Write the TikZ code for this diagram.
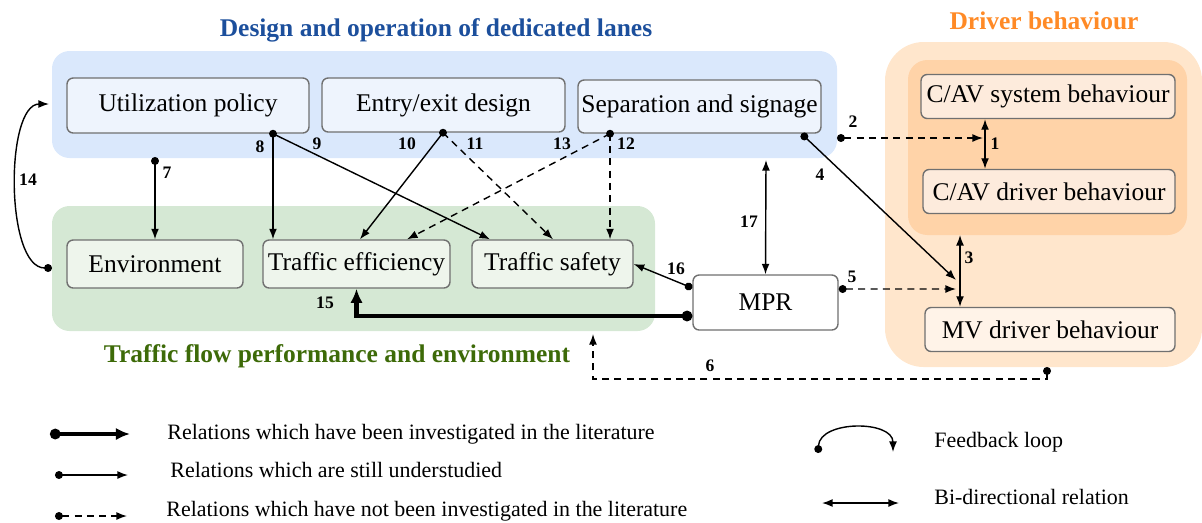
\documentclass[tikz,border=0pt]{standalone}
\usepackage{fontspec}
\setmainfont{Liberation Serif}
\usetikzlibrary{arrows.meta}

\definecolor{lanebg}{HTML}{DAE8FC}
\definecolor{lanebox}{HTML}{EEF4FD}
\definecolor{lanetxt}{HTML}{1C4F9C}
\definecolor{flowbg}{HTML}{D5E8D4}
\definecolor{flowbox}{HTML}{EEF5EC}
\definecolor{flowtxt}{HTML}{3D6A08}
\definecolor{drvbg}{HTML}{FFE6CC}
\definecolor{drvin}{HTML}{FFD3A8}
\definecolor{drvbox}{HTML}{FDEBDC}
\definecolor{mvbox}{HTML}{FFF3E8}
\definecolor{drvtxt}{HTML}{FF8A26}
\definecolor{boxline}{HTML}{707070}

\begin{document}
\begin{tikzpicture}[x=0.02cm, y=-0.02cm,
blk/.style = {draw=boxline, line width=0.8pt, rounded corners=3.5pt, inner sep=1pt, font=\fontsize{14.5}{17}\selectfont},
ttl/.style = {inner sep=0pt, font=\bfseries\fontsize{14.5}{17}\selectfont},
num/.style = {inner sep=0pt, font=\bfseries\fontsize{10}{12}\selectfont},
lgd/.style = {anchor=west, inner sep=0pt, font=\fontsize{12.5}{15}\selectfont},
rel/.style = {line width=0.8pt, {Circle[length=4.5pt]}-{Latex[length=6pt,width=4.5pt]}},
nrel/.style = {rel, dash pattern=on 4pt off 3pt},
rto/.style = {line width=0.8pt, -{Latex[length=6pt,width=4.5pt]}},
nrto/.style = {rto, dash pattern=on 4pt off 3pt},
irel/.style = {line width=2.8pt, {Circle[length=6pt]}-{Latex[length=8pt,width=7pt]}},
bi/.style = {line width=0.8pt, {Latex[length=6pt,width=4.5pt]}-{Latex[length=6pt,width=4.5pt]}},
scale = 1
]
\useasboundingbox (0,0) rectangle (1202,522);

% groups
\fill[lanebg, rounded corners=10pt] (52,51) rectangle (837,158);
\fill[flowbg, rounded corners=10pt] (52,206) rectangle (655,331);
\fill[drvbg, rounded corners=22pt] (885,42) rectangle (1202,367);
\fill[drvin, rounded corners=11pt] (908,60) rectangle (1187,235);

\node[ttl, text=lanetxt] (tlane) at (436,30) {Design and operation of dedicated lanes};
\node[ttl, text=drvtxt] (tdrv) at (1044,21) {Driver behaviour};
\node[ttl, text=flowtxt] (tflow) at (337,356) {Traffic flow performance and environment};

% boxes
\node[blk, fill=lanebox, minimum width=4.84cm, minimum height=1.1cm] (util) at (188,105.5) {Utilization policy};
\node[blk, fill=lanebox, minimum width=4.86cm, minimum height=1.08cm] (entry) at (443.5,105) {Entry/exit design};
\node[blk, fill=lanebox, minimum width=4.86cm, minimum height=1.06cm] (sep) at (699.5,106.5) {Separation and signage};
\node[blk, fill=flowbox, minimum width=3.52cm, minimum height=0.96cm] (env) at (155,264) {Environment};
\node[blk, fill=flowbox, minimum width=3.74cm, minimum height=0.96cm] (eff) at (356.5,264) {Traffic efficiency};
\node[blk, fill=flowbox, minimum width=3.22cm, minimum height=0.96cm] (safe) at (552.5,264) {Traffic safety};
\node[blk, fill=white, minimum width=2.9cm, minimum height=1.1cm] (mpr) at (765.5,302.5) {MPR};
\node[blk, fill=drvbox, minimum width=5.08cm, minimum height=0.88cm] (cavs) at (1048,96.5) {C/AV system behaviour};
\node[blk, fill=drvbox, minimum width=5.04cm, minimum height=0.88cm] (cavd) at (1049,191.5) {C/AV driver behaviour};
\node[blk, fill=mvbox, minimum width=5.0cm, minimum height=0.88cm] (mvd) at (1050,329.5) {MV driver behaviour};

% end points
\coordinate (c1) at ([xshift=-1.26cm]cavs.south);
\coordinate (c2) at (837,138);
\coordinate (c2e) at (983,138);
\coordinate (c3) at (960,235);
\coordinate (c4) at (956,280);
\coordinate (c5e) at (956,289);
\coordinate (c6) at (1047,367);
\coordinate (c6m) at (1047,379);
\coordinate (c6e) at (593,334);
\coordinate (c7) at (155,157);
\coordinate (c14) at (52,268);
\coordinate (c14e) at (49,104);
\coordinate (c17) at (766,160);
\coordinate (u8) at ([xshift=1.7cm]util.south);
\coordinate (e10) at ([xshift=-0.01cm]entry.south);
\coordinate (s12) at ([xshift=-1.79cm]sep.south);
\coordinate (s4) at ([xshift=2.04cm]sep.south);
\coordinate (t9) at ([xshift=-1.25cm]safe.north);
\coordinate (t10) at ([xshift=0.07cm]eff.north);
\coordinate (t11) at ([xshift=0.01cm]safe.north);
\coordinate (t13) at ([xshift=1.01cm]eff.north);
\coordinate (mp5) at ([yshift=0.27cm]mpr.east);
\coordinate (mp15) at ([yshift=-0.27cm]mpr.west);
\coordinate (mp16) at ([yshift=0.29cm]mpr.west);

% relations
\foreach \p in {u8, e10, s12}{\fill (\p) circle (2.25pt);}
\foreach \i/\j in {c7/env.north, s4/c4, mp16/safe.east}{\draw[rel] (\i) -- (\j);}
\foreach \i/\j in {u8/u8 |- eff.north, u8/t9, e10/t10}{\draw[rto] (\i) -- (\j);}
\foreach \i/\j in {c2/c2e, mp5/c5e}{\draw[nrel] (\i) -- (\j);}
\foreach \i/\j in {e10/t11, s12/t13, s12/s12 |- safe.north}{\draw[nrto] (\i) -- (\j);}
\foreach \i/\j in {c1/c1 |- cavd.north, c3/c3 |- mvd.north, c17/mpr.north}{\draw[bi] (\i) -- (\j);}
\draw[irel] (mp15) -| (eff.south);
\draw[nrel] (c6) -- (c6m) -| (c6e);
\draw[rel] (c14) .. controls (5,268) and (5,104) .. (c14e);

\foreach \n/\x/\y in {1/995/144, 2/853/122, 3/969/258, 4/820/175, 5/852/277, 6/710/366, 7/167/173, 8/260/147, 9/317/144, 10/407/144, 11/475/144, 12/626/144, 13/562/144, 14/28/180, 15/325/303, 16/676/269, 17/749/222}{\node[num] (n\n) at (\x,\y) {\n};}

% legend
\coordinate (l1a) at (50,434); \coordinate (l1b) at (130,434);
\coordinate (l2a) at (55,475); \coordinate (l2b) at (128,475);
\coordinate (l3a) at (55,516); \coordinate (l3b) at (127,516);
\coordinate (l4a) at (818,453); \coordinate (l4b) at (893,452);
\coordinate (l5a) at (822,503); \coordinate (l5b) at (899,503);
\draw[irel] (l1a) -- (l1b);
\draw[rel] (l2a) -- (l2b);
\draw[nrel] (l3a) -- (l3b);
\draw[rel] (l4a) .. controls (820,420) and (893,420) .. (l4b);
\draw[bi] (l5a) -- (l5b);
\node[lgd] (g1) at (167,434) {Relations which have been investigated in the literature};
\node[lgd] (g2) at (170,470) {Relations which are still understudied};
\node[lgd] (g3) at (166,511) {Relations which have not been investigated in the literature};
\node[lgd] (g4) at (934,442) {Feedback loop};
\node[lgd] (g5) at (934,497) {Bi-directional relation};
\end{tikzpicture}
\end{document}
